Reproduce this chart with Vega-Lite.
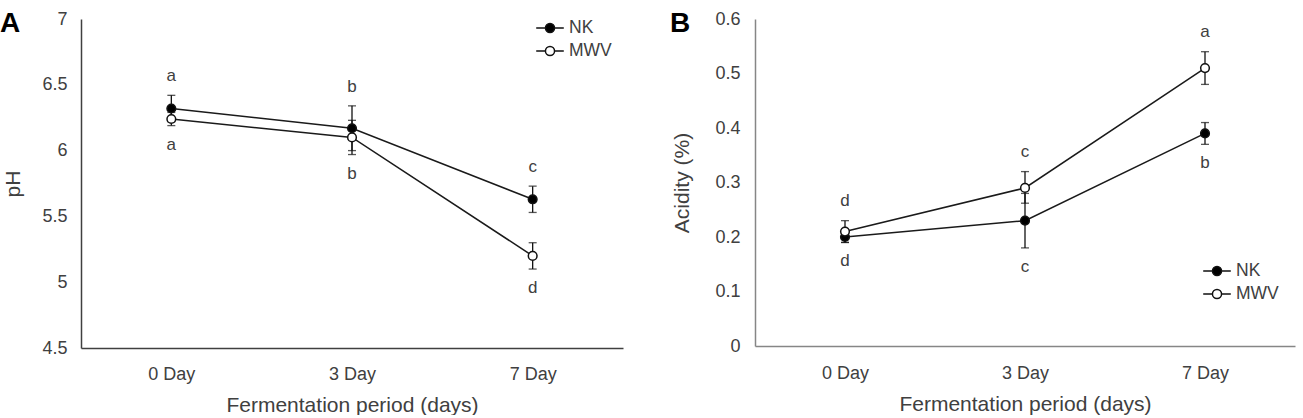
{
  "$schema": "https://vega.github.io/schema/vega-lite/v6.json",
  "background": "white",
  "padding": {"left": 0, "top": 10, "right": 5, "bottom": 0},
  "bounds": "flush",
  "spacing": 132,
  "datasets": {
    "A": [
      {"day": "0 Day", "series": "NK", "value": 6.32, "lo": 6.22, "hi": 6.42, "letter": "a", "pos": "above"},
      {"day": "0 Day", "series": "MWV", "value": 6.24, "lo": 6.19, "hi": 6.29, "letter": "a", "pos": "below"},
      {"day": "3 Day", "series": "NK", "value": 6.17, "lo": 6.0, "hi": 6.34, "letter": "b", "pos": "above"},
      {"day": "3 Day", "series": "MWV", "value": 6.1, "lo": 5.97, "hi": 6.23, "letter": "b", "pos": "below"},
      {"day": "7 Day", "series": "NK", "value": 5.63, "lo": 5.53, "hi": 5.73, "letter": "c", "pos": "above"},
      {"day": "7 Day", "series": "MWV", "value": 5.2, "lo": 5.1, "hi": 5.3, "letter": "d", "pos": "below"}
    ],
    "B": [
      {"day": "0 Day", "series": "NK", "value": 0.2, "lo": 0.19, "hi": 0.21, "letter": "d", "pos": "below"},
      {"day": "0 Day", "series": "MWV", "value": 0.21, "lo": 0.19, "hi": 0.23, "letter": "d", "pos": "above"},
      {"day": "3 Day", "series": "NK", "value": 0.23, "lo": 0.18, "hi": 0.28, "letter": "c", "pos": "below"},
      {"day": "3 Day", "series": "MWV", "value": 0.29, "lo": 0.262, "hi": 0.32, "letter": "c", "pos": "above"},
      {"day": "7 Day", "series": "NK", "value": 0.39, "lo": 0.37, "hi": 0.41, "letter": "b", "pos": "below"},
      {"day": "7 Day", "series": "MWV", "value": 0.51, "lo": 0.48, "hi": 0.54, "letter": "a", "pos": "above"}
    ]
  },
  "config": {
    "view": {"stroke": null},
    "font": "Liberation Sans",
    "axis": {
      "ticks": false,
      "grid": false,
      "domainWidth": 1.5,
      "labelFont": "Liberation Sans",
      "labelFontSize": 18,
      "labelColor": "#404040",
      "titleFont": "Liberation Sans",
      "titleFontSize": 21,
      "titleFontWeight": "normal",
      "titleColor": "#404040"
    },
    "legend": {
      "title": null,
      "orient": "none",
      "padding": 0,
      "rowPadding": 1,
      "labelFont": "Liberation Sans",
      "labelFontSize": 17.5,
      "labelColor": "#404040",
      "labelOffset": 6,
      "symbolType": "M-1.15,0H-0.38M0.38,0H1.15M0.38,0A0.38,0.38,0,1,1,-0.38,0A0.38,0.38,0,1,1,0.38,0",
      "symbolSize": 576,
      "symbolStrokeColor": "#111111",
      "symbolStrokeWidth": 1.5
    },
    "title": {"anchor": "start", "frame": "group", "fontSize": 28, "fontWeight": "bold", "color": "#000000", "font": "Liberation Sans"}
  },
  "hconcat": [
    {
      "width": 542,
      "height": 329,
      "data": {"name": "A"},
      "title": {"text": "A", "dx": -81, "offset": -28},
      "encoding": {
        "x": {
          "field": "day", "type": "ordinal",
          "sort": ["0 Day", "3 Day", "7 Day"],
          "scale": {"type": "point", "padding": 0.5},
          "axis": {"title": "Fermentation period (days)", "labelAngle": 0, "labelPadding": 17, "titlePadding": 11, "domainColor": "#404040"}
        }
      },
      "layer": [
        {
          "mark": {"type": "rule", "color": "#111111", "strokeWidth": 1.3},
          "encoding": {
            "y": {"field": "lo", "type": "quantitative", "scale": {"domain": [4.5, 7], "nice": false, "zero": false},
              "axis": {"title": "pH", "values": [4.5, 5, 5.5, 6, 6.5, 7], "format": "~g", "labelPadding": 14, "titlePadding": 18, "domainColor": "#404040"}},
            "y2": {"field": "hi"}
          }
        },
        {
          "mark": {"type": "tick", "orient": "horizontal", "color": "#111111", "size": 8, "thickness": 1.3},
          "encoding": {"y": {"field": "lo", "type": "quantitative"}}
        },
        {
          "mark": {"type": "tick", "orient": "horizontal", "color": "#111111", "size": 8, "thickness": 1.3},
          "encoding": {"y": {"field": "hi", "type": "quantitative"}}
        },
        {
          "mark": {"type": "line", "color": "#1a1a1a", "strokeWidth": 1.5},
          "encoding": {"y": {"field": "value", "type": "quantitative"}, "detail": {"field": "series"}}
        },
        {
          "mark": {"type": "point", "shape": "circle", "filled": true, "stroke": "#111111", "strokeWidth": 1.5, "size": 75, "opacity": 1},
          "encoding": {
            "y": {"field": "value", "type": "quantitative"},
            "fill": {"field": "series", "type": "nominal",
              "scale": {"domain": ["NK", "MWV"], "range": ["#000000", "#ffffff"]},
              "legend": {"legendX": 456, "legendY": -4}}
          }
        },
        {
          "transform": [{"filter": "datum.pos === 'above'"}],
          "mark": {"type": "text", "dy": -19, "baseline": "middle", "fontSize": 17, "color": "#404040", "font": "Liberation Sans"},
          "encoding": {"y": {"field": "hi", "type": "quantitative"}, "text": {"field": "letter"}}
        },
        {
          "transform": [{"filter": "datum.pos === 'below'"}],
          "mark": {"type": "text", "dy": 19, "baseline": "middle", "fontSize": 17, "color": "#404040", "font": "Liberation Sans"},
          "encoding": {"y": {"field": "lo", "type": "quantitative"}, "text": {"field": "letter"}}
        }
      ]
    },
    {
      "width": 540,
      "height": 327,
      "data": {"name": "B"},
      "title": {"text": "B", "dx": -85, "offset": -28},
      "encoding": {
        "x": {
          "field": "day", "type": "ordinal",
          "sort": ["0 Day", "3 Day", "7 Day"],
          "scale": {"type": "point", "padding": 0.5},
          "axis": {"title": "Fermentation period (days)", "labelAngle": 0, "labelPadding": 18, "titlePadding": 11, "domainColor": "#868686"}
        }
      },
      "layer": [
        {
          "mark": {"type": "rule", "color": "#111111", "strokeWidth": 1.3},
          "encoding": {
            "y": {"field": "lo", "type": "quantitative", "scale": {"domain": [0, 0.6], "nice": false},
              "axis": {"title": "Acidity (%)", "values": [0, 0.1, 0.2, 0.3, 0.4, 0.5, 0.6], "format": "~g", "labelPadding": 15, "titlePadding": 22, "domainColor": "#868686"}},
            "y2": {"field": "hi"}
          }
        },
        {
          "mark": {"type": "tick", "orient": "horizontal", "color": "#111111", "size": 8, "thickness": 1.3},
          "encoding": {"y": {"field": "lo", "type": "quantitative"}}
        },
        {
          "mark": {"type": "tick", "orient": "horizontal", "color": "#111111", "size": 8, "thickness": 1.3},
          "encoding": {"y": {"field": "hi", "type": "quantitative"}}
        },
        {
          "mark": {"type": "line", "color": "#1a1a1a", "strokeWidth": 1.5},
          "encoding": {"y": {"field": "value", "type": "quantitative"}, "detail": {"field": "series"}}
        },
        {
          "mark": {"type": "point", "shape": "circle", "filled": true, "stroke": "#111111", "strokeWidth": 1.5, "size": 75, "opacity": 1},
          "encoding": {
            "y": {"field": "value", "type": "quantitative"},
            "fill": {"field": "series", "type": "nominal",
              "scale": {"domain": ["NK", "MWV"], "range": ["#000000", "#ffffff"]},
              "legend": {"legendX": 449, "legendY": 239}}
          }
        },
        {
          "transform": [{"filter": "datum.pos === 'above'"}],
          "mark": {"type": "text", "dy": -20, "baseline": "middle", "fontSize": 17, "color": "#404040", "font": "Liberation Sans"},
          "encoding": {"y": {"field": "hi", "type": "quantitative"}, "text": {"field": "letter"}}
        },
        {
          "transform": [{"filter": "datum.pos === 'below'"}],
          "mark": {"type": "text", "dy": 19, "baseline": "middle", "fontSize": 17, "color": "#404040", "font": "Liberation Sans"},
          "encoding": {"y": {"field": "lo", "type": "quantitative"}, "text": {"field": "letter"}}
        }
      ]
    }
  ],
  "resolve": {"scale": {"fill": "independent"}, "legend": {"fill": "independent"}}
}
